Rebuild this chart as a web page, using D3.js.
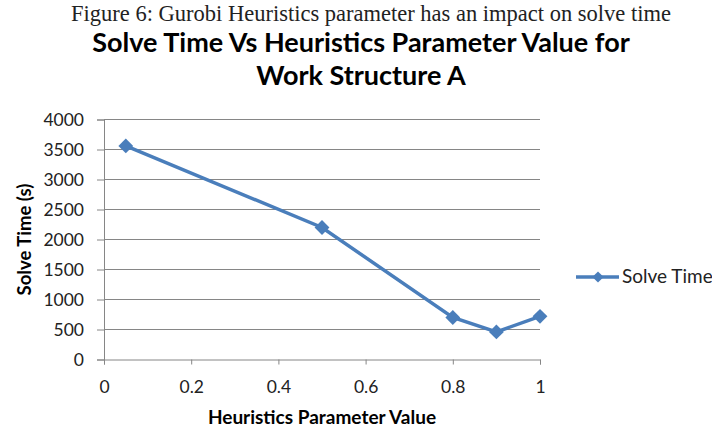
<!DOCTYPE html>
<html>
<head>
<meta charset="utf-8">
<script src="https://cdn.jsdelivr.net/npm/d3@7"></script>
<style>
  body { margin: 0; background: #fff; }
  svg { display: block; }
</style>
</head>
<body>
<svg id="chart" width="712" height="430"></svg>
<script>
// data
const heuristics = [0.05, 0.5, 0.8, 0.9, 1.0];
const solveTime = [3560, 2200, 700, 460, 720];
const xTicks = [0, 0.2, 0.4, 0.6, 0.8, 1];
const yTicks = [0, 500, 1000, 1500, 2000, 2500, 3000, 3500, 4000];
const seriesName = 'Solve Time';

const svg = d3.select('#chart');
const sans = 'Lato, "Open Sans", sans-serif';
const blue = '#4a7ebb';
const grey = '#868686';

const x = d3.scaleLinear().domain([0, 1]).range([104, 540]);
const y = d3.scaleLinear().domain([0, 4000]).range([359.5, 119.5]);

// caption
svg.append('text')
    .attr('x', 371).attr('y', 21)
    .attr('text-anchor', 'middle')
    .style('font-family', '"Liberation Serif", "DejaVu Serif", serif')
    .style('font-size', '22.5px')
    .attr('fill', '#222')
    .text('Figure 6: Gurobi Heuristics parameter has an impact on solve time');

// title
const title = svg.append('text')
    .attr('text-anchor', 'middle')
    .style('font-family', sans)
    .style('font-weight', 'bold')
    .style('font-size', '27px')
    .attr('fill', '#000');
title.append('tspan').attr('x', 361).attr('y', 52).text('Solve Time Vs Heuristics Parameter Value for');
title.append('tspan').attr('x', 361).attr('y', 85).text('Work Structure A');

// gridlines
svg.append('g')
    .selectAll('line')
    .data(yTicks.filter(d => d > 0))
    .join('line')
    .attr('x1', x(0)).attr('x2', x(1))
    .attr('y1', d => y(d)).attr('y2', d => y(d))
    .attr('stroke', grey).attr('stroke-width', 1);

// y axis
const yAxis = svg.append('g')
    .attr('transform', `translate(${x(0)},0)`)
    .call(d3.axisLeft(y).tickValues(yTicks).tickSize(7).tickPadding(13).tickFormat(d3.format('d')));
yAxis.select('.domain').attr('stroke', grey);
yAxis.selectAll('.tick line').attr('stroke', grey);
yAxis.selectAll('text')
    .style('font-family', sans).style('font-size', '17.5px').attr('fill', '#222');

// x axis
const xAxis = svg.append('g')
    .attr('transform', `translate(0,${y(0)})`)
    .call(d3.axisBottom(x).tickValues(xTicks).tickSize(5).tickPadding(16).tickFormat(d3.format('')));
xAxis.select('.domain').attr('stroke', grey);
xAxis.selectAll('.tick line').attr('stroke', grey);
xAxis.selectAll('text')
    .style('font-family', sans).style('font-size', '17.5px').attr('fill', '#222');

// axis titles
svg.append('text')
    .attr('transform', 'translate(31,239.5) rotate(-90)')
    .attr('text-anchor', 'middle')
    .style('font-family', sans).style('font-weight', 'bold').style('font-size', '18.5px')
    .text('Solve Time (s)');

svg.append('text')
    .attr('x', 322).attr('y', 424)
    .attr('text-anchor', 'middle')
    .style('font-family', sans).style('font-weight', 'bold').style('font-size', '19px')
    .text('Heuristics Parameter Value');

// series
const pts = heuristics.map((h, i) => [h, solveTime[i]]);
svg.append('path')
    .datum(pts)
    .attr('fill', 'none')
    .attr('stroke', blue)
    .attr('stroke-width', 3.5)
    .attr('d', d3.line().x(d => x(d[0])).y(d => y(d[1])));

const diamond = d3.symbol().type(d3.symbolDiamond2).size(140);
svg.append('g')
    .selectAll('path')
    .data(pts)
    .join('path')
    .attr('transform', d => `translate(${x(d[0])},${y(d[1])})`)
    .attr('d', diamond)
    .attr('fill', blue);

// legend
const lg = svg.append('g').attr('transform', 'translate(576,277)');
lg.append('line').attr('x1', 0).attr('x2', 43).attr('stroke', blue).attr('stroke-width', 3.5);
lg.append('path').attr('transform', 'translate(22,0)').attr('d', d3.symbol().type(d3.symbolDiamond2).size(80)).attr('fill', blue);
lg.append('text').attr('x', 46).attr('y', 6)
    .style('font-family', sans).style('font-size', '19px').attr('fill', '#222')
    .text(seriesName);
</script>
</body>
</html>
